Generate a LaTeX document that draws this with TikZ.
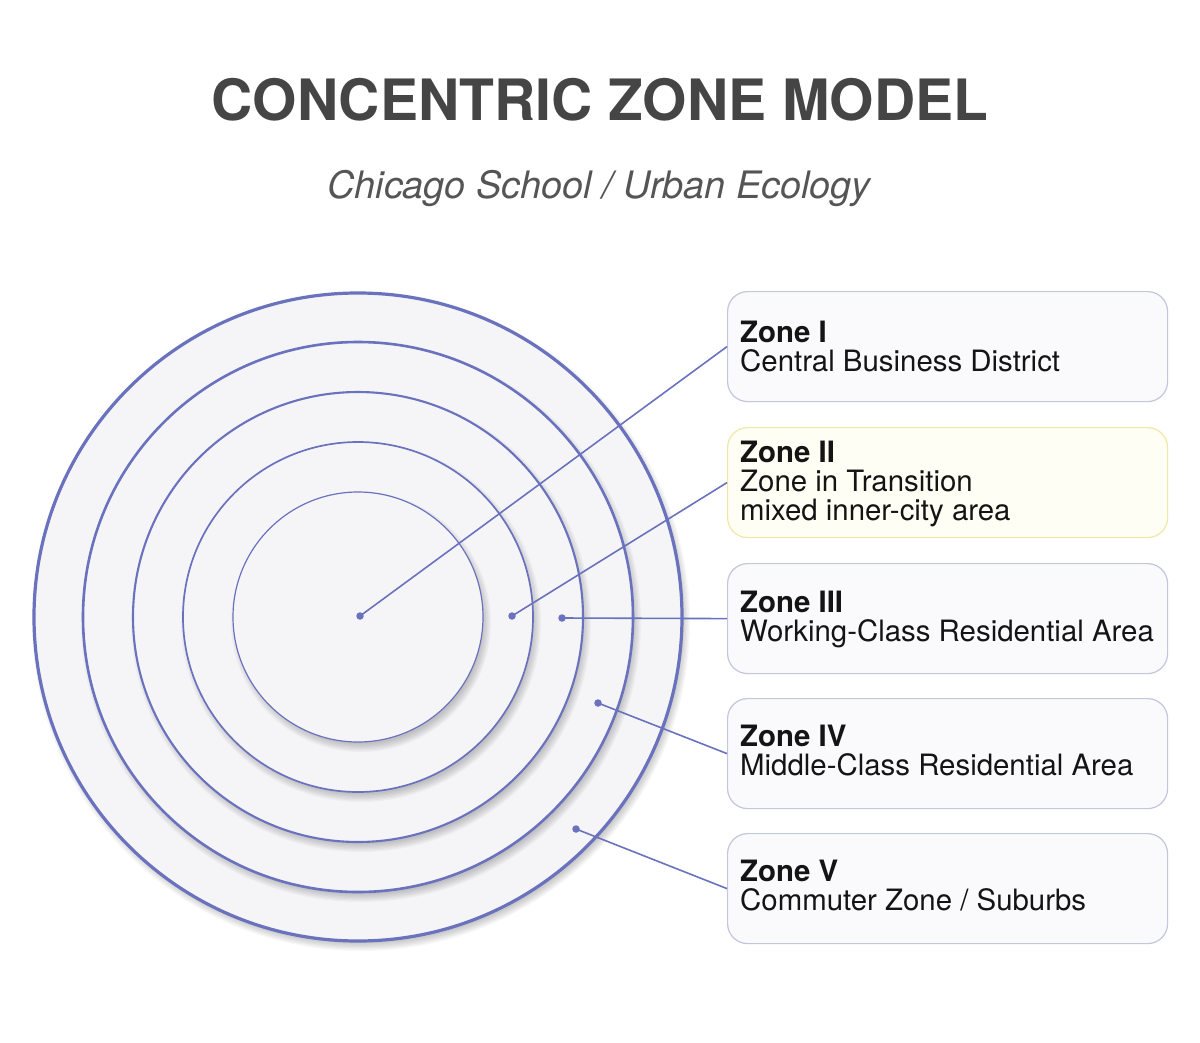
\documentclass[tikz,border=0pt]{standalone}
\usepackage{fontspec}
\setmainfont{TeX Gyre Heros}
\definecolor{ring}{RGB}{106,114,190}
\definecolor{ringfill}{RGB}{245,245,247}
\definecolor{titlegray}{RGB}{69,69,69}
\definecolor{subgray}{RGB}{85,85,85}
\definecolor{boxfill}{RGB}{250,250,252}
\definecolor{boxline}{RGB}{196,197,222}
\definecolor{yboxfill}{RGB}{255,254,244}
\definecolor{yboxline}{RGB}{240,232,168}
\definecolor{ztextcol}{RGB}{20,20,20}
\tikzset{
  zbox/.style={draw=boxline, fill=boxfill, line width=1.2pt, rounded corners=20pt,
    minimum width=440pt, minimum height=110pt, anchor=north west, inner sep=0pt},
  ybox/.style={zbox, draw=yboxline, fill=yboxfill},
  ztext/.style={anchor=north west, inner sep=0pt, align=left, text=ztextcol,
    font=\fontsize{29.4}{29}\selectfont},
  zdot/.style={circle, fill=ring, inner sep=0pt, minimum size=7.5pt},
  conn/.style={draw=ring, line width=1.6pt}
}
\newcommand{\firstline}{\rule{0pt}{24pt}}
\begin{document}
\begin{tikzpicture}[x=1pt,y=-1pt]
\useasboundingbox (0,0) rectangle (1200,1042);
\fill[white] (0,0) rectangle (1200,1042);

\node[anchor=base, inner sep=0pt, text=titlegray, font=\bfseries\fontsize{57}{60}\selectfont] (title) at (600,120) {CONCENTRIC ZONE MODEL};
\node[anchor=base, inner sep=0pt, text=subgray, font=\itshape\fontsize{37.8}{40}\selectfont] (subtitle) at (599,198) {Chicago School / Urban Ecology};

% concentric rings with soft shadows
\foreach \r/\w in {324/3.2, 275/2.6, 225/2.1, 175/1.7, 125/1.2} {
  \foreach \k in {0,...,6} {
    \fill[black, opacity=0.032] (361,622) circle ({\r+5-\k*1.3});
  }
  \fill[ringfill] (358,617) circle (\r);
  \draw[ring, line width=\w pt] (358,617) circle (\r);
}

% boxes
\node[zbox] (b1) at (727,291) {};
\node[ybox] (b2) at (727,427) {};
\node[zbox] (b3) at (727,563) {};
\node[zbox] (b4) at (727,698) {};
\node[zbox] (b5) at (727,833) {};

\node[ztext] (t1) at (740,318) {\firstline\textbf{Zone I}\\Central Business District};
\node[ztext] (t2) at (740,438) {\firstline\textbf{Zone II}\\Zone in Transition\\mixed inner-city area};
\node[ztext] (t3) at (740,588) {\firstline\textbf{Zone III}\\Working-Class Residential Area};
\node[ztext] (t4) at (740,722) {\firstline\textbf{Zone IV}\\Middle-Class Residential Area};
\node[ztext] (t5) at (740,857) {\firstline\textbf{Zone V}\\Commuter Zone / Suburbs};

% dots and connectors
\node[zdot] (d1) at (360,616) {};
\node[zdot] (d2) at (512,616) {};
\node[zdot] (d3) at (562,618) {};
\node[zdot] (d4) at (598,703) {};
\node[zdot] (d5) at (576,829) {};

\draw[conn] (d1.center) -- (b1.west);
\draw[conn] (d2.center) -- (b2.west);
\draw[conn] (d3.center) -- (b3.west);
\draw[conn] (d4.center) -- (b4.west);
\draw[conn] (d5.center) -- (b5.west);
\end{tikzpicture}
\end{document}
